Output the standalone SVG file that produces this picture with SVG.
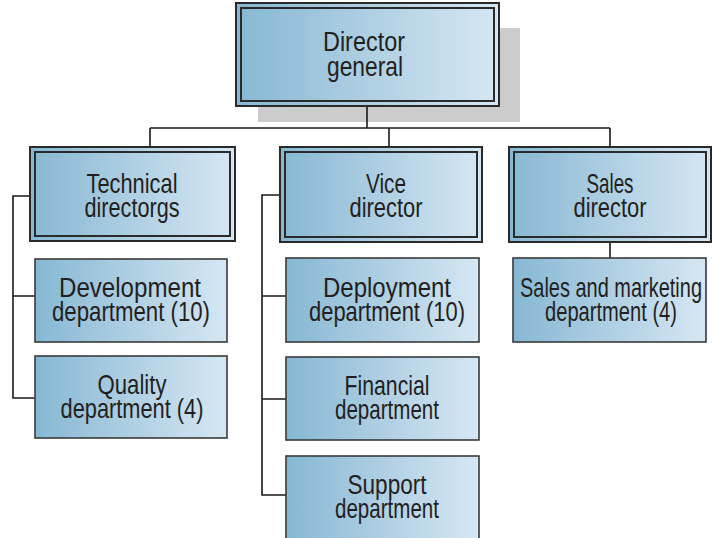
<svg xmlns="http://www.w3.org/2000/svg" width="717" height="538" viewBox="0 0 717 538">
<defs>
<linearGradient id="g" x1="0" y1="0" x2="1" y2="0">
<stop offset="0" stop-color="#86b8d3"/>
<stop offset="0.5" stop-color="#afcfe3"/>
<stop offset="1" stop-color="#d6e7f4"/>
</linearGradient>
<style>
.dir{fill:url(#g);stroke:#2a2a2a;stroke-width:2}
.inner{fill:none;stroke:#2a2a2a;stroke-width:2}
.dept{fill:url(#g);stroke:#3a3a3a;stroke-width:1.6}
.c{fill:none;stroke:#1a1a1a;stroke-width:1.6}
text{font-family:"Liberation Sans",Arial,sans-serif;font-size:27.5px;fill:#231f20;text-anchor:middle}
</style>
</defs>
<rect x="258" y="28" width="262" height="94" fill="#cccccc"/>
<g id="connectors">
<path class="c" d="M367,106 V128 M150,128 H610 M150,128 V147 M389,128 V147 M610,128 V147"/>
<path class="c" d="M30,196 H13 V398 H35 M13,296 H35"/>
<path class="c" d="M280,195 H262 V495 H286 M262,296 H286 M262,399 H286"/>
<path class="c" d="M610,242 V258"/>
</g>
<g id="director-general">
<rect class="dir" x="236" y="3" width="263" height="103"/>
<rect class="inner" x="241" y="8" width="253" height="93"/>
<text x="364" y="51" textLength="82" lengthAdjust="spacingAndGlyphs">Director</text>
<text x="365" y="76" textLength="76" lengthAdjust="spacingAndGlyphs">general</text>
</g>
<g id="technical-director">
<rect class="dir" x="30" y="147" width="205" height="94"/>
<rect class="inner" x="35" y="152" width="195" height="84"/>
<text x="132" y="193" textLength="91" lengthAdjust="spacingAndGlyphs">Technical</text>
<text x="132" y="217" textLength="95" lengthAdjust="spacingAndGlyphs">directorgs</text>
</g>
<g id="vice-director">
<rect class="dir" x="280" y="147" width="202" height="95"/>
<rect class="inner" x="285" y="152" width="192" height="85"/>
<text x="386" y="193" textLength="40" lengthAdjust="spacingAndGlyphs">Vice</text>
<text x="386" y="217" textLength="73" lengthAdjust="spacingAndGlyphs">director</text>
</g>
<g id="sales-director">
<rect class="dir" x="509" y="147" width="202" height="95"/>
<rect class="inner" x="514" y="152" width="192" height="85"/>
<text x="610" y="193" textLength="47" lengthAdjust="spacingAndGlyphs">Sales</text>
<text x="610" y="217" textLength="73" lengthAdjust="spacingAndGlyphs">director</text>
</g>
<g id="development">
<rect class="dept" x="35" y="259" width="192" height="83"/>
<text x="130" y="297" textLength="142" lengthAdjust="spacingAndGlyphs">Development</text>
<text x="131" y="321" textLength="158" lengthAdjust="spacingAndGlyphs">department (10)</text>
</g>
<g id="quality">
<rect class="dept" x="35" y="356" width="192" height="82"/>
<text x="132" y="394" textLength="69" lengthAdjust="spacingAndGlyphs">Quality</text>
<text x="132" y="418" textLength="143" lengthAdjust="spacingAndGlyphs">department (4)</text>
</g>
<g id="deployment">
<rect class="dept" x="286" y="258" width="193" height="84"/>
<text x="387" y="297" textLength="128" lengthAdjust="spacingAndGlyphs">Deployment</text>
<text x="387" y="321" textLength="156" lengthAdjust="spacingAndGlyphs">department (10)</text>
</g>
<g id="financial">
<rect class="dept" x="286" y="357" width="193" height="83"/>
<text x="387" y="395" textLength="85" lengthAdjust="spacingAndGlyphs">Financial</text>
<text x="387" y="419" textLength="104" lengthAdjust="spacingAndGlyphs">department</text>
</g>
<g id="support">
<rect class="dept" x="286" y="456" width="193" height="84"/>
<text x="387" y="494" textLength="79" lengthAdjust="spacingAndGlyphs">Support</text>
<text x="387" y="518" textLength="104" lengthAdjust="spacingAndGlyphs">department</text>
</g>
<g id="sales-marketing">
<rect class="dept" x="513" y="258" width="193" height="84"/>
<text x="611" y="297" textLength="182" lengthAdjust="spacingAndGlyphs">Sales and marketing</text>
<text x="611" y="321" textLength="132" lengthAdjust="spacingAndGlyphs">department (4)</text>
</g>
</svg>
